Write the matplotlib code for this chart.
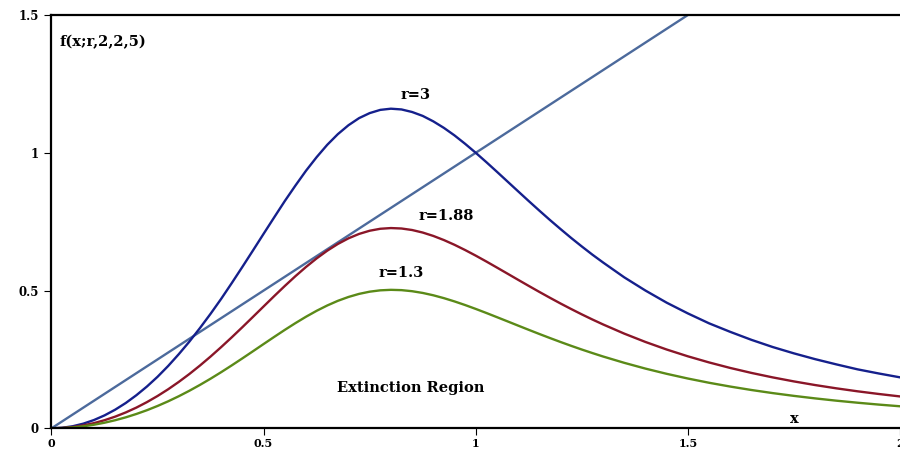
import matplotlib
matplotlib.use('Agg')
import matplotlib.pyplot as plt

# sample points along x: step 0.025 up to 1.3, then 0.05 out to 2
xs = [round(0.025 * i, 3) for i in range(53)] + [round(1.3 + 0.05 * i, 2) for i in range(1, 15)]

f_r3 = [0, 0.0019, 0.0075, 0.0169, 0.030, 0.0469, 0.0675, 0.0918, 0.120, 0.1517,
        0.187, 0.2262, 0.269, 0.3146, 0.364, 0.4157, 0.470, 0.5273, 0.586, 0.6457,
        0.706, 0.7658, 0.825, 0.8811, 0.935, 0.9842, 1.029, 1.0677, 1.100, 1.1258,
        1.144, 1.1557, 1.160, 1.1573, 1.148, 1.1338, 1.114, 1.0903, 1.063, 1.0325,
        1.000, 0.9660, 0.931, 0.8955, 0.860, 0.8247, 0.790, 0.7559, 0.723, 0.6908,
        0.660, 0.6302, 0.602,
        0.548, 0.500, 0.456, 0.417, 0.381, 0.350, 0.321, 0.295, 0.272, 0.251,
        0.232, 0.214, 0.199, 0.185]
f_r188 = [0, 0.0012, 0.0047, 0.0106, 0.0188, 0.0294, 0.0423, 0.0576, 0.0751, 0.0951,
          0.1173, 0.1417, 0.1684, 0.1971, 0.2279, 0.2605, 0.2948, 0.3304, 0.3671, 0.4046,
          0.4423, 0.4799, 0.5167, 0.5522, 0.5857, 0.6167, 0.6447, 0.6691, 0.6895, 0.7055,
          0.7171, 0.7242, 0.7268, 0.7252, 0.7197, 0.7105, 0.6982, 0.6832, 0.6660, 0.6470,
          0.6267, 0.6054, 0.5834, 0.5612, 0.5389, 0.5168, 0.4950, 0.4737, 0.4529, 0.4329,
          0.4135, 0.3949, 0.3771,
          0.3437, 0.3134, 0.2860, 0.2613, 0.2391, 0.2190, 0.2010, 0.1848, 0.1702, 0.1570,
          0.1451, 0.1343, 0.1246, 0.1157]
f_r13 = [0, 0.0008, 0.0033, 0.0073, 0.013, 0.0203, 0.0293, 0.0398, 0.052, 0.0657,
         0.0811, 0.0980, 0.1164, 0.1363, 0.1576, 0.1801, 0.2038, 0.2285, 0.2539, 0.2798,
         0.3059, 0.3318, 0.3573, 0.3818, 0.4050, 0.4265, 0.4458, 0.4627, 0.4767, 0.4879,
         0.4959, 0.5008, 0.5026, 0.5015, 0.4976, 0.4913, 0.4828, 0.4724, 0.4605, 0.4474,
         0.4333, 0.4186, 0.4034, 0.3881, 0.3727, 0.3574, 0.3423, 0.3276, 0.3132, 0.2993,
         0.2859, 0.2731, 0.2607,
         0.2377, 0.2167, 0.1978, 0.1807, 0.1653, 0.1515, 0.1390, 0.1278, 0.1177, 0.1086,
         0.1003, 0.0929, 0.0861, 0.0800]
assert len(xs) == len(f_r3) == len(f_r188) == len(f_r13)

# diagonal y = x
diag_x = [0, 2]
diag_y = [0, 2]

xticks = [0, 0.5, 1, 1.5, 2]
xtick_labels = ['0', '0.5', '1', '1.5', '2']
yticks = [0, 0.5, 1, 1.5]
ytick_labels = ['0', '0.5', '1', '1.5']

font = dict(family='DejaVu Serif', weight='bold')

fig = plt.figure(figsize=(9, 4.51), dpi=100)
ax = fig.add_axes([0.0572, 0.0503, 0.9428, 0.9164])

ax.plot(diag_x, diag_y, color='#4c6a9c', lw=1.7)
ax.plot(xs, f_r3, color='#15208c', lw=1.7)
ax.plot(xs, f_r188, color='#8a1628', lw=1.7)
ax.plot(xs, f_r13, color='#5b8a18', lw=1.7)

ax.set_xlim(0, 2)
ax.set_ylim(0, 1.5)
ax.set_xticks(xticks)
ax.set_xticklabels(xtick_labels, fontsize=8, **font)
ax.set_yticks(yticks)
ax.set_yticklabels(ytick_labels, fontsize=8.5, **font)
ax.tick_params(axis='both', direction='out', length=5, width=0.8, pad=4)
ax.tick_params(axis='x', pad=2)

for side in ['left', 'top', 'bottom']:
    ax.spines[side].set_linewidth(1.6)
ax.spines['right'].set_visible(False)

ax.text(0.02, 1.40, 'f(x;r,2,2,5)', fontsize=10.5, ha='left', va='center', **font)
ax.text(0.857, 1.211, 'r=3', fontsize=10.5, ha='center', va='center', **font)
ax.text(0.931, 0.771, 'r=1.88', fontsize=10.5, ha='center', va='center', **font)
ax.text(0.825, 0.563, 'r=1.3', fontsize=10.5, ha='center', va='center', **font)
ax.text(0.846, 0.1475, 'Extinction Region', fontsize=10.5, ha='center', va='center', **font)
ax.text(1.75, 0.034, 'x', fontsize=10.5, ha='center', va='center', **font)

fig.savefig('out.png', dpi=100)
